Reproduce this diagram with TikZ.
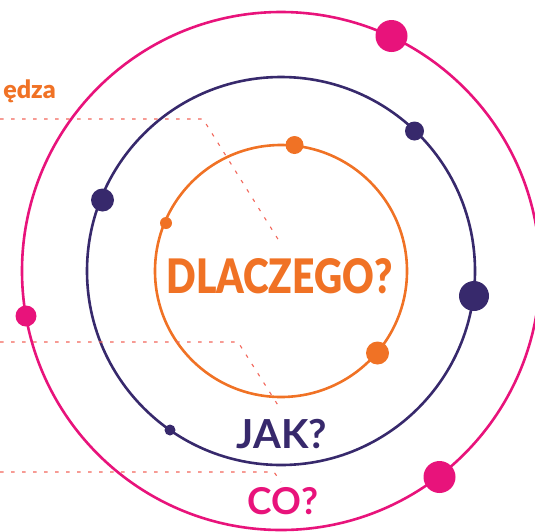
\documentclass[tikz,border=0pt]{standalone}
\usepackage{fontspec}
\usepackage{graphicx}
\setmainfont{Lato}
\newfontfamily\latoblack{Lato Black}
\definecolor{cpink}{HTML}{E8137B}
\definecolor{cnavy}{HTML}{37296C}
\definecolor{corange}{HTML}{F07225}
\definecolor{cdash}{HTML}{F2665A}
\tikzset{
  ring/.style={line width=2.6pt},
  dot/.style={circle, inner sep=0pt, draw=none, fill=#1},
  guide/.style={cdash, line width=1.1pt, dash pattern=on 3.5pt off 7.5pt},
  lbl/.style={inner sep=0pt}
}
\begin{document}
\begin{tikzpicture}[x=1pt,y=-1pt]
\useasboundingbox (0,0) rectangle (535,531);
\coordinate (c) at (281,271);
% rings
\draw[ring, cpink] (c) circle (259);
\draw[ring, cnavy] (c) circle (194);
\draw[ring, corange] (c) circle (126);
% dots
\node[dot=cpink, minimum size=32pt] (p1) at (391.5,36) {};
\node[dot=cpink, minimum size=21pt] (p2) at (26,316) {};
\node[dot=cpink, minimum size=32pt] (p3) at (439.5,477) {};
\node[dot=cnavy, minimum size=23pt] (n1) at (102.5,200) {};
\node[dot=cnavy, minimum size=19pt] (n2) at (414.5,131) {};
\node[dot=cnavy, minimum size=30pt] (n3) at (474,296) {};
\node[dot=cnavy, minimum size=11pt] (n4) at (170,430) {};
\node[dot=corange, minimum size=18pt] (o1) at (294.5,145) {};
\node[dot=corange, minimum size=12pt] (o2) at (166,223) {};
\node[dot=corange, minimum size=23pt] (o3) at (377.5,353) {};
% labels
\node[lbl, corange, anchor=base] (why) at (279.5,293)
  {\resizebox{226pt}{35pt}{\fontsize{48}{50}\latoblack\selectfont DLACZEGO?}};
\node[lbl, cnavy, font=\fontsize{40}{42}\bfseries\selectfont, anchor=base] (how) at (282,448) {JAK?};
\node[lbl, cpink, font=\fontsize{37}{39}\bfseries\selectfont, anchor=base] (what) at (283,514) {CO?};
\node[lbl, corange, font=\fontsize{25}{27}\latoblack\selectfont, anchor=base east] (know) at (56,98) {ędza};
% guides
\coordinate (g1s) at (0,119);
\coordinate (g1b) at (203,119);
\coordinate (g1e) at (281,244);
\coordinate (g2s) at (0,342);
\coordinate (g2b) at (238,342);
\coordinate (g2e) at (281,410);
\coordinate (g3s) at (0,472);
\coordinate (g3b) at (274,472);
\coordinate (g3e) at (281,482);
\draw[guide] (g1s) -- (g1b) -- (g1e);
\draw[guide] (g2s) -- (g2b) -- (g2e);
\draw[guide] (g3s) -- (g3b) -- (g3e);
\end{tikzpicture}
\end{document}
